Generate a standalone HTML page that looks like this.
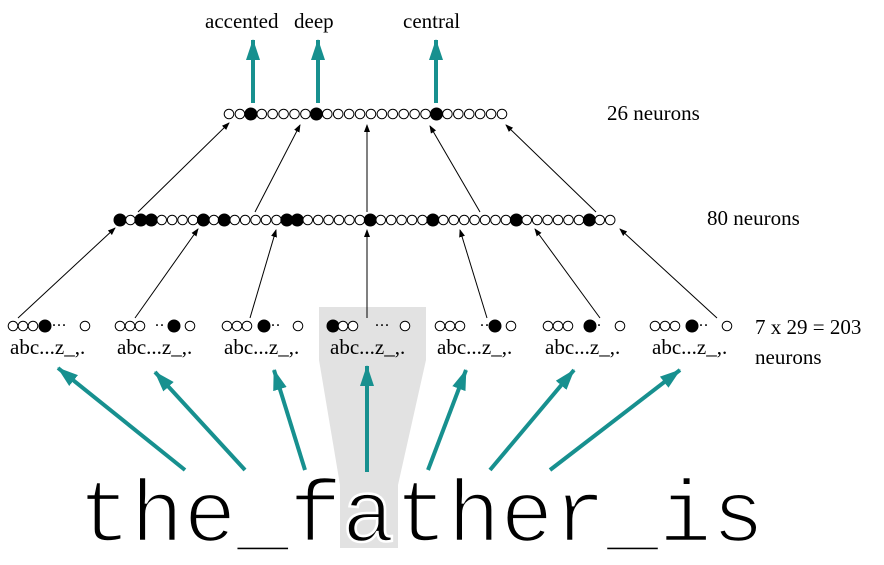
<!DOCTYPE html>
<html><head><meta charset="utf-8"><style>
html,body{margin:0;padding:0;background:#fff;width:884px;height:565px;overflow:hidden}
svg{display:block}
text{font-family:"Liberation Serif",serif;fill:#000}
</style></head><body>
<svg id="s" width="884" height="565" viewBox="0 0 884 565" xmlns="http://www.w3.org/2000/svg">
<defs>
<marker id="ab" markerWidth="8" markerHeight="8" refX="7" refY="3" orient="auto" markerUnits="userSpaceOnUse"><path d="M0,0 L8,3 L0,6 z" fill="#000"/></marker>
<marker id="at" markerWidth="22" markerHeight="16" refX="20" refY="7" orient="auto" markerUnits="userSpaceOnUse"><path d="M0,0 L21,7 L0,14 z" fill="#17908f"/></marker>
</defs>
<path d="M319,307 L426,307 L426,360 L398,485 L398,548 L340,548 L340,485 L319,360 Z" fill="#e2e2e2"/>
<g id="g"></g>
<text x="205" y="28" font-size="21">accented</text>
<text x="294" y="28" font-size="21">deep</text>
<text x="403" y="28" font-size="21">central</text>
<text x="607" y="120" font-size="21">26 neurons</text>
<text x="707" y="225" font-size="21">80 neurons</text>
<text x="755" y="334" font-size="21">7 x 29 = 203</text>
<text x="755" y="364" font-size="21">neurons</text>
<text x="78" y="541" font-size="88" stroke="#fff" stroke-width="2.6" style="font-family:'Liberation Mono',monospace">the_father_is</text>
</svg>
<script>
var g=document.getElementById('g'),h='';
function c(x,y,f,r){r=r||5;h+='<circle cx="'+x+'" cy="'+y+'" r="'+r+'" fill="'+(f?'#000':'#fff')+'" stroke="#000" stroke-width="1"/>';}
function L(x1,y1,x2,y2){h+='<line x1="'+x1+'" y1="'+y1+'" x2="'+x2+'" y2="'+y2+'" stroke="#000" stroke-width="1" marker-end="url(#ab)"/>';}
function T(x1,y1,x2,y2){h+='<line x1="'+x1+'" y1="'+y1+'" x2="'+x2+'" y2="'+y2+'" stroke="#17908f" stroke-width="4" marker-end="url(#at)"/>';}
var tf=[2,8,19];
for(var i=0;i<26;i++){var x=229+i*10.92;var f=tf.indexOf(i)>=0;c(x,114,f,f?6:4.8);}
var mf=[0,2,3,8,10,16,17,24,30,38,45];
for(var i=0;i<48;i++){var x=120+i*10.43;var f=mf.indexOf(i)>=0;c(x,220,f,f?6:4.8);}
var gx=[10,117,224,330,437,545,652];
var pats=[
 [[13,0],[23,0],[33,0],[45,1],['•••',52],[85,0]],
 [[120,0],[130,0],[140,0],['••',155],[174,1],[190,0]],
 [[227,0],[237,0],[247,0],[264,1],['••',271],[298,0]],
 [[333,1],[343,0],[353,0],['•••',375],[405,0]],
 [[440,0],[450,0],[460,0],['••',480],[495,1],[511,0]],
 [[548,0],[558,0],[568,0],[590,1],['•',597],[620,0]],
 [[655,0],[665,0],[675,0],[692,1],['••',699],[727,0]]
];
pats.forEach(function(p){p.forEach(function(e){
 if(typeof e[0]=='string'){h+='<text x="'+e[1]+'" y="329" font-size="12" font-weight="bold" letter-spacing="1">'+(e[0]=='•'?'·':e[0]=='••'?'··':'···')+'</text>';}
 else c(e[0],326,e[1],e[1]?6:4.8);});});
gx.forEach(function(x){h+='<text x="'+x+'" y="354" font-size="21">abc...z_,.</text>';});
[[138,212,229,123],[255,212,300,125],[367,212,367,125],[480,212,430,126],[596,212,506,125]].forEach(function(a){L.apply(0,a);});
[[18,318,115,228],[135,318,198,229],[250,318,276,230],[367,318,367,230],[487,318,460,230],[600,318,535,229],[717,318,620,229]].forEach(function(a){L.apply(0,a);});
T(253,103,253,40);T(318,103,318,40);T(436,103,436,40);
[[185,470,58,368],[245,470,155,372],[305,470,274,370],[367,472,367,366],[428,470,466,370],[490,470,574,370],[550,470,680,370]].forEach(function(a){T.apply(0,a);});
g.innerHTML=h;
</script>
</body></html>
